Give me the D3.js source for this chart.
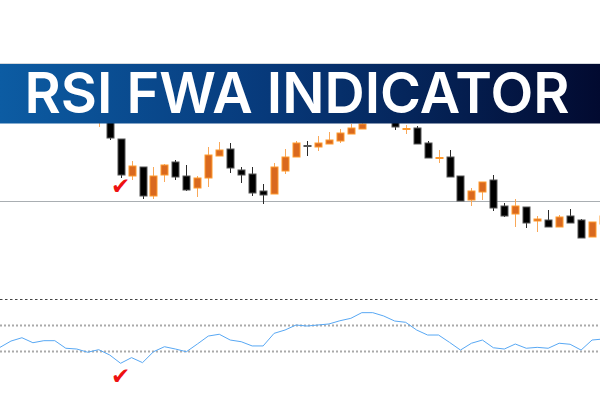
<!DOCTYPE html>
<html><head><meta charset="utf-8">
<script src="https://cdn.jsdelivr.net/npm/d3@7/dist/d3.min.js"></script>
<style>html,body{margin:0;padding:0;background:#fff;overflow:hidden}</style>
</head><body>
<svg id="c" width="600" height="400"></svg>
<script>
// ---- data ----
const title = "RSI FWA INDICATOR";
const firstCandle = 9; // bar index of first candle drawn
const open  = [180,185,161,124,133,104,125,138,124,112,122,144,151,130,126,109,106,129,143,154.5,153,156,159,166,171,178,186,182,170.5,172,157,141.5,143,124,100,108,120,94,86,93,79,80,73,84,80,63,76];
const high  = [195,190,161,139,133,133,136,140,135,124,153,158,157,133,133,116,137,151,159,159,164,168,171,176,178,188,190,186,175,174,159,150,150,124,112,118,125,97,101,93,84,90,85,91,81,78,86];
const low   = [173,160,122,120,101,101,118,120,109,103,113,144,127,117,104,96,106,126,143,144,149,156,157,166,171,177,177,170,166,156,142,137,123,99,94,100,89,83,73,72,68,73,73,77,62,63,74];
const close = [190,162,125,134,104,124,135,123,110,122,145,150,132,125,107,105,133,143,157,153.5,157,160,167,172,176,184,179,173,171.5,156,142,142.5,123,99,109,118,92,84,94,77,81,73,83,77,62,78,84];
const refLevel = 99;
const rsi = [32.6,37.5,40.1,36.2,37.8,37.8,31.9,31.3,28.8,30.8,26.7,20.2,24.6,20.7,29.2,33.1,31.3,29.2,35.2,41.4,42.8,38.3,37.0,33.7,33.7,43.5,46.1,50.0,49.2,50.0,50.8,53.3,55.2,59.6,59.6,57.0,53.1,52.1,46.1,42.2,42.2,36.5,30.5,35.8,38.3,32.3,31.3,35.2,31.9,32.6,31.9,35.8,35.0,30.5,38.3,39.1];
const rsiLevels = [70, 50, 30];
const checkBar = 10;

// ---- scales ----
const svg = d3.select("#c");
const x = d3.scaleLinear().domain([0, 55]).range([0, 603]);
const y = d3.scaleLinear().domain([0, 300]).range([300, 0]);
const yr = d3.scaleLinear().domain([30, 70]).range([350.7, 299.3]);

const defs = svg.append("defs");
defs.append("clipPath").attr("id","pane").append("rect").attr("x",0).attr("y",64).attr("width",600).attr("height",220);
const g = defs.append("linearGradient").attr("id","ban").attr("x1","0").attr("x2","1").attr("y1","0").attr("y2","0");
g.append("stop").attr("offset","0").attr("stop-color","#0c5ca3");
g.append("stop").attr("offset","0.45").attr("stop-color","#07397a");
g.append("stop").attr("offset","1").attr("stop-color","#020a30");

// reference line
svg.append("line").attr("x1",0).attr("x2",600).attr("y1",Math.round(y(refLevel))+0.5).attr("y2",Math.round(y(refLevel))+0.5)
  .attr("stroke","#a9aeb2").attr("stroke-width",1.2);

// candles
const candles = open.map((o,k)=>({i:k+firstCandle,o,h:high[k],l:low[k],c:close[k]}));
const cg = svg.append("g").attr("clip-path","url(#pane)");
const cc = cg.selectAll("g.cd").data(candles).join("g");
cc.append("line")
  .attr("x1",d=>Math.round(x(d.i))+0.5).attr("x2",d=>Math.round(x(d.i))+0.5)
  .attr("y1",d=>y(d.h)).attr("y2",d=>y(d.l))
  .attr("stroke",d=>d.c>=d.o?"#f9a859":"#2a2a2a").attr("stroke-width",1);
cc.append("rect")
  .attr("x",d=>Math.round(x(d.i))-3)
  .attr("width",7)
  .attr("y",d=>y(Math.max(d.o,d.c)))
  .attr("height",d=>Math.max(1,Math.abs(y(d.o)-y(d.c))))
  .attr("fill",d=>d.c>=d.o?"#d9691f":"#000")
  .attr("stroke",d=>d.c>=d.o?"#ff9a2c":"#555")
  .attr("stroke-width",1);

// RSI levels
rsiLevels.forEach((lv,k)=>{
  svg.append("line").attr("x1",0).attr("x2",600)
    .attr("y1",Math.round(yr(lv))+0.5).attr("y2",Math.round(yr(lv))+0.5)
    .attr("stroke",k===0?"#444":"#aaaaaa")
    .attr("stroke-width",k===0?1:2)
    .attr("stroke-dasharray",k===0?"2.5,2.5":"2,2");
});

// RSI line
svg.append("path").datum(rsi)
  .attr("d",d3.line().x((d,i)=>x(i)).y(d=>yr(d)))
  .attr("fill","none").attr("stroke","#58a8f4").attr("stroke-width",1);

// check marks
[194, 384].forEach(by=>{
  svg.append("text").attr("x",x(checkBar)+11).attr("y",by).attr("text-anchor","middle")
    .attr("font-family","DejaVu Sans").attr("font-size",23).attr("fill","#ee1111").text("✔");
});

// banner
svg.append("line").attr("x1",0).attr("x2",600).attr("y1",63.5).attr("y2",63.5).attr("stroke","#d4d8dc").attr("stroke-width",1);
svg.append("rect").attr("x",0).attr("y",64).attr("width",600).attr("height",59.5).attr("fill","url(#ban)");
svg.append("text").attr("x",297).attr("y",113).attr("text-anchor","middle")
  .attr("font-family","Inter, 'Open Sans', sans-serif").attr("font-weight",600).attr("font-size",57)
  .attr("fill","#fff").attr("textLength",545).attr("lengthAdjust","spacingAndGlyphs").text(title);
</script>
</body></html>
